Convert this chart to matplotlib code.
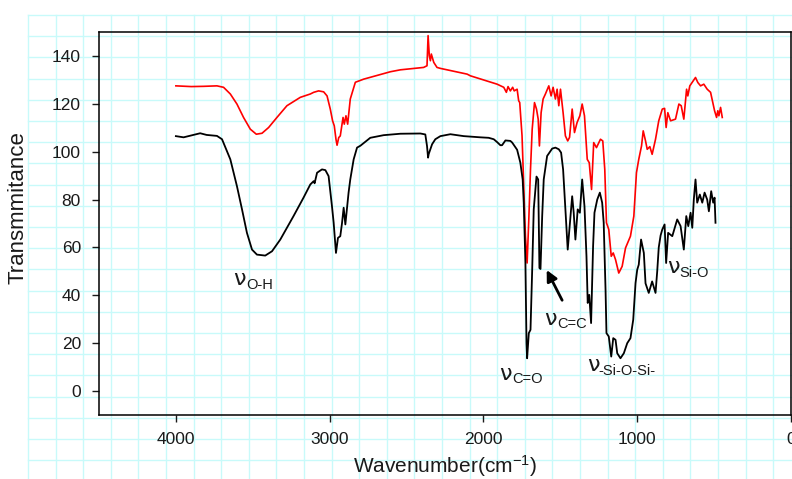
import numpy as np
import matplotlib
matplotlib.use("Agg")
import matplotlib.pyplot as plt
from matplotlib.lines import Line2D

plt.rcParams['font.family'] = ['Liberation Sans', 'DejaVu Sans']
plt.rcParams['mathtext.default'] = 'regular'

# black spectrum (wavenumber, transmittance)
black_wn = [4000, 3950, 3900, 3842, 3800, 3733, 3700, 3646, 3603, 3570, 3538, 3505, 3473,
            3419, 3375, 3321, 3235, 3170, 3126, 3104, 3098, 3082, 3050, 3028, 3007, 2985,
            2974, 2959, 2946, 2931, 2920, 2909, 2898, 2877, 2866, 2844, 2822, 2800, 2736,
            2649, 2540, 2410, 2378, 2367, 2360, 2356, 2345, 2334, 2313, 2280, 2215, 2128,
            2020, 1966, 1933, 1911, 1890, 1879, 1857, 1825, 1813, 1781, 1760, 1745, 1738,
            1727, 1720, 1716, 1705, 1694, 1683, 1673, 1655, 1644, 1636, 1629, 1618, 1608,
            1586, 1553, 1532, 1510, 1495, 1482, 1467, 1452, 1439, 1423, 1413, 1402, 1387,
            1373, 1358, 1343, 1330, 1322, 1312, 1300, 1287, 1278, 1260, 1243, 1228, 1218,
            1206, 1200, 1185, 1169, 1156, 1141, 1130, 1109, 1087, 1065, 1044, 1026, 1011,
            1000, 990, 975, 957, 946, 925, 903, 881, 870, 860, 848, 837, 822, 812, 799,
            772, 740, 718, 697, 681, 668, 653, 642, 632, 621, 610, 593, 577, 562, 545,
            534, 519, 506, 497, 491]
black_t = [106.5, 106.0, 106.8, 107.7, 107.0, 106.6, 105.2, 96.8, 85.6, 75.9, 66.1, 59.1, 57.0,
           56.6, 58.4, 63.3, 73.1, 80.8, 86.3, 87.7, 86.8, 91.2, 92.6, 92.3, 89.8, 77.2,
           70.3, 57.7, 64.0, 64.7, 70.0, 76.6, 69.6, 82.9, 88.4, 96.8, 101.7, 102.5, 105.8,
           106.9, 107.5, 107.6, 107.2, 102.4, 97.5, 99.0, 101.0, 103.1, 105.2, 106.5, 107.3, 106.5,
           106.0, 105.8, 105.2, 104.0, 102.7, 102.7, 104.7, 104.5, 103.8, 100.8, 95.4, 88.4, 78.7,
           53.5, 20.0, 13.7, 24.2, 25.6, 50.7, 75.9, 89.6, 88.4, 51.4, 51.0, 73.1, 88.4,
           98.2, 101.3, 101.7, 101.0, 99.6, 92.6, 75.9, 59.1, 68.9, 81.4, 74.5, 63.3, 75.9,
           74.5, 88.4, 77.2, 56.3, 36.8, 40.2, 28.4, 60.5, 74.5, 80.0, 82.9, 78.7, 70.3,
           42.3, 24.2, 22.8, 14.4, 22.1, 21.4, 15.8, 13.7, 15.8, 20.0, 22.1, 29.8, 45.1,
           50.7, 52.8, 63.3, 57.7, 45.0, 41.0, 45.8, 41.0, 50.0, 60.0, 65.0, 67.5, 69.6, 53.5, 66.1,
           64.7, 71.7, 68.9, 59.1, 73.1, 68.9, 74.5, 68.2, 80.0, 88.4, 78.7, 82.1, 78.7, 82.9, 80.0,
           75.1, 83.5, 78.7, 80.8, 70.3]

# red spectrum
red_wn = [4000, 3900, 3820, 3733, 3690, 3646, 3603, 3560, 3516, 3477, 3440, 3397, 3343,
          3278, 3191, 3126, 3104, 3072, 3039, 3017, 2996, 2981, 2970, 2959, 2952, 2941,
          2931, 2913, 2905, 2894, 2883, 2866, 2833, 2779, 2605, 2540, 2389, 2367, 2360,
          2352, 2345, 2339, 2323, 2302, 2280, 2106, 2085, 1911, 1868, 1851, 1840, 1825,
          1810, 1800, 1781, 1771, 1764, 1749, 1738, 1727, 1716, 1705, 1694, 1683, 1668,
          1655, 1644, 1636, 1625, 1612, 1597, 1575, 1560, 1547, 1532, 1521, 1510, 1499,
          1482, 1467, 1452, 1440, 1423, 1408, 1391, 1373, 1358, 1343, 1325, 1312, 1297,
          1283, 1265, 1239, 1224, 1211, 1200, 1185, 1169, 1156, 1141, 1120, 1098, 1076,
          1044, 1022, 1005, 990, 972, 961, 946, 935, 918, 903, 881, 860, 837, 822, 812,
          801, 783, 751, 729, 714, 697, 679, 671, 658, 636, 621, 606, 588, 567, 545, 523,
          506, 497, 484, 476, 469, 458, 447]
red_t = [127.5, 127.2, 127.3, 127.5, 126.9, 124.1, 119.9, 114.3, 109.4, 107.3, 107.7, 110.1, 114.3,
         119.2, 122.7, 124.1, 124.8, 125.4, 125.0, 123.3, 117.8, 112.9, 110.8, 105.2, 102.7, 105.9,
         106.6, 114.3, 111.5, 115.0, 111.5, 122.0, 129.0, 130.3, 133.4, 134.2, 135.2, 135.9, 148.5,
         140.1, 138.0, 140.8, 137.3, 135.2, 134.8, 132.4, 131.7, 128.2, 126.9, 124.8, 127.2, 125.4,
         126.9, 125.4, 126.1, 121.3, 120.5, 106.6, 85.6, 64.7, 53.5, 71.7, 92.6, 109.4, 120.5,
         117.8, 113.6, 102.4, 116.3, 122.0, 124.1, 127.5, 123.3, 126.9, 122.0, 126.1, 119.2, 126.1,
         116.3, 106.6, 104.5, 106.0, 117.8, 108.0, 112.2, 115.0, 119.9, 115.0, 96.8, 95.4, 84.2,
         103.8, 101.7, 105.2, 104.5, 92.6, 70.3, 67.5, 56.3, 57.7, 54.9, 49.3, 52.1, 59.8,
         64.7, 73.1, 91.2, 96.8, 102.4, 108.7, 104.5, 101.0, 102.1, 98.9, 105.2, 112.9, 117.8, 118.1, 110.1,
         116.3, 112.9, 113.6, 119.9, 119.2, 113.6, 126.1, 123.3, 127.5, 129.6, 131.0, 128.9, 127.5, 128.2, 126.1, 124.8,
         119.9, 117.1, 114.3, 117.1, 115.0, 118.5, 114.3]

x_ticks = [4000, 3000, 2000, 1000, 0]
y_ticks = [0, 20, 40, 60, 80, 100, 120, 140]

fig = plt.figure(figsize=(7.92, 4.79), dpi=100, facecolor='white')

# graph paper background behind everything
W, H = 792, 479
grid_col = '#c8fafa'
for gx in np.arange(28, W, 27.6):
    fig.add_artist(Line2D([gx / W, gx / W], [0, 1 - 15 / H], transform=fig.transFigure,
                          color=grid_col, lw=1, zorder=0))
for gy in np.arange(15, H, 21.2):
    fig.add_artist(Line2D([28 / W, 1], [1 - gy / H, 1 - gy / H], transform=fig.transFigure,
                          color=grid_col, lw=1, zorder=0))

ax = fig.add_axes([99 / W, 1 - 415 / H, 692 / W, 383 / H])
ax.set_facecolor('none')

ax.plot(red_wn, red_t, color='red', lw=1.2)
ax.plot(black_wn, black_t, color='black', lw=1.3)

ax.set_xlim(4500, 0)
ax.set_ylim(-10, 150)
ax.set_xticks(x_ticks)
ax.set_yticks(y_ticks)
ax.tick_params(direction='out', length=5, width=1, labelsize=12.5, colors='#1a1a1a')
ax.tick_params(axis='y', pad=8)
ax.tick_params(axis='x', pad=7)
for s in ax.spines.values():
    s.set_linewidth(1.1)

fig.text(18 / W, 1 - 208 / H, 'Transmmitance', rotation=90, ha='center', va='center',
         fontsize=16, color='#1a1a1a')
fig.text(445 / W, 1 - 466 / H, 'Wavenumber(cm$^{-1}$)', ha='center', va='center',
         fontsize=15, color='#1a1a1a')

# band labels: nu + subscript
bands = [
    ((3627, 44.4), (3540, 42.7), 'O-H'),
    ((1896, 4.6), (1810, 3.4), 'C=O'),
    ((1603, 27.7), (1517, 26.4), 'C=C'),
    ((1323, 8.4), (1250, 6.7), '-Si-O-Si-'),
    ((808, 49.5), (728, 47.8), 'Si-O'),
]
for nu_pos, sub_pos, sub in bands:
    ax.text(nu_pos[0], nu_pos[1], 'ν', fontsize=16, family='DejaVu Sans',
            ha='left', va='baseline', color='#1a1a1a')
    ax.text(sub_pos[0], sub_pos[1], sub, fontsize=10.5, ha='left', va='baseline',
            color='#1a1a1a')

ax.annotate('', xy=(1597, 51.6), xytext=(1480, 36.9),
            arrowprops=dict(arrowstyle='-|>', color='black', lw=2, mutation_scale=16))

fig.savefig('out.png', dpi=100)
